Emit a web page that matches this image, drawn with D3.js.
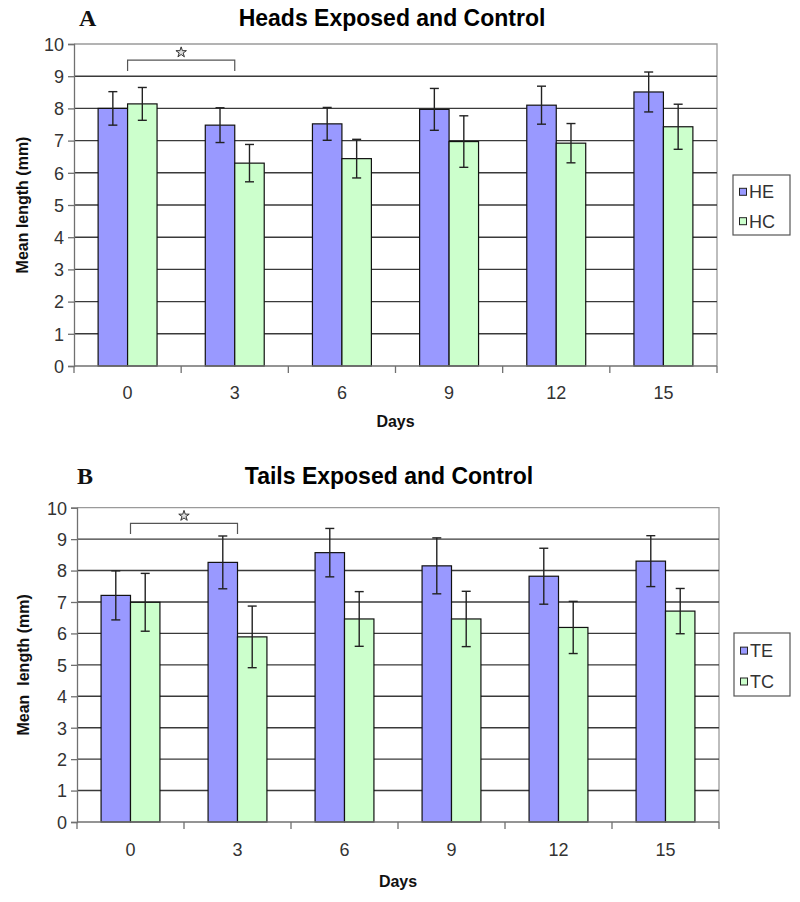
<!DOCTYPE html>
<html>
<head>
<meta charset="utf-8">
<script src="https://cdn.jsdelivr.net/npm/d3@7"></script>
<style>
  html, body { margin: 0; padding: 0; background: #fff; }
  svg { display: block; }
</style>
</head>
<body>
<svg id="chart" width="800" height="902"></svg>
<script>
// ---------- data ----------
const days = ["0", "3", "6", "9", "12", "15"];
const yTicks = [0, 1, 2, 3, 4, 5, 6, 7, 8, 9, 10];

// Panel A: Heads
const headsSeries = ["HE", "HC"];
const heValues = [8.00, 7.48, 7.52, 7.97, 8.10, 8.51];
const heErrors = [0.52, 0.54, 0.51, 0.65, 0.59, 0.62];
const hcValues = [8.14, 6.30, 6.44, 6.97, 6.92, 7.43];
const hcErrors = [0.51, 0.58, 0.60, 0.80, 0.61, 0.70];

// Panel B: Tails
const tailsSeries = ["TE", "TC"];
const teValues = [7.21, 8.26, 8.57, 8.15, 7.82, 8.30];
const teErrors = [0.78, 0.84, 0.77, 0.89, 0.89, 0.81];
const tcValues = [6.99, 5.89, 6.46, 6.46, 6.19, 6.71];
const tcErrors = [0.92, 0.98, 0.87, 0.88, 0.83, 0.72];

// significance bracket (between day 0 and day 3)
const bracketDays = ["0", "3"];
const bracketTop = 9.5;
const bracketBottom = 9.16;
const starLevel = 9.74;

const colors = ["#9999FF", "#CCFFCC"];

const SANS = "Arial, 'Liberation Sans', sans-serif";
const SERIF = "'Times New Roman', 'Liberation Serif', serif";

const panels = [
  { letter: "A", title: "Heads Exposed and Control", yTitle: "Mean length (mm)",
    series: headsSeries, values: [heValues, hcValues], errors: [heErrors, hcErrors],
    left: 74, right: 717, top: 44, bottom: 366, titleY: 26, letterX: 79, titleX: 392,
    legend: { x: 733, y: 175, w: 57, h: 60 }, xLabelY: 399, daysY: 427, yTitleX: 28 },
  { letter: "B", title: "Tails Exposed and Control", yTitle: "Mean  length (mm)",
    series: tailsSeries, values: [teValues, tcValues], errors: [teErrors, tcErrors],
    left: 77, right: 719, top: 507.7, bottom: 822, titleY: 483.5, letterX: 77, titleX: 389,
    legend: { x: 734, y: 633, w: 56, h: 63 }, xLabelY: 856, daysY: 887, yTitleX: 29 }
];

const svg = d3.select("#chart");

panels.forEach(p => {
  const g = svg.append("g").style("font-family", SANS);
  const x = d3.scaleBand().domain(days).range([p.left, p.right]).paddingInner(0.45).paddingOuter(0.225);
  const xs = d3.scaleBand().domain(p.series).range([0, x.bandwidth()]).padding(0);
  const y = d3.scaleLinear().domain([0, 10]).range([p.bottom, p.top]);

  // plot frame (top & right, gray)
  g.append("path")
    .attr("d", `M${p.left},${y(10)}H${p.right}V${y(0)}`)
    .attr("fill", "none").attr("stroke", "#9a9a9a").attr("stroke-width", 1.3);

  // gridlines
  g.append("g").selectAll("line").data(yTicks.filter(t => t > 0 && t < 10)).join("line")
    .attr("x1", p.left).attr("x2", p.right)
    .attr("y1", d => y(d)).attr("y2", d => y(d))
    .attr("stroke", "#3a3a3a").attr("stroke-width", 1.4);

  // bars
  const groups = g.append("g").selectAll("g").data(days).join("g")
    .attr("transform", d => `translate(${x(d)},0)`);
  p.series.forEach((s, si) => {
    groups.append("rect")
      .attr("x", xs(s))
      .attr("y", (d, i) => y(p.values[si][i]))
      .attr("width", xs.bandwidth())
      .attr("height", (d, i) => y(0) - y(p.values[si][i]))
      .attr("fill", colors[si])
      .attr("stroke", "#111").attr("stroke-width", 1.2);
  });

  // error bars
  p.series.forEach((s, si) => {
    const cx = xs(s) + xs.bandwidth() / 2;
    const eg = groups.append("g").attr("stroke", "#222").attr("stroke-width", 1.4);
    eg.append("line").attr("x1", cx).attr("x2", cx)
      .attr("y1", (d, i) => y(p.values[si][i] + p.errors[si][i]))
      .attr("y2", (d, i) => y(p.values[si][i] - p.errors[si][i]));
    eg.append("line").attr("x1", cx - 4.5).attr("x2", cx + 4.5)
      .attr("y1", (d, i) => y(p.values[si][i] + p.errors[si][i]))
      .attr("y2", (d, i) => y(p.values[si][i] + p.errors[si][i]));
    eg.append("line").attr("x1", cx - 4.5).attr("x2", cx + 4.5)
      .attr("y1", (d, i) => y(p.values[si][i] - p.errors[si][i]))
      .attr("y2", (d, i) => y(p.values[si][i] - p.errors[si][i]));
  });

  // y axis
  const yAxis = g.append("g").attr("transform", `translate(${p.left},0)`)
    .call(d3.axisLeft(y).tickValues(yTicks).tickSize(6).tickPadding(4));
  yAxis.attr("font-family", null).attr("font-size", null);
  yAxis.select(".domain").attr("stroke", "#707070").attr("stroke-width", 1.3);
  yAxis.selectAll(".tick line").attr("stroke", "#707070").attr("stroke-width", 1.3);
  yAxis.selectAll(".tick text").style("font-size", "18px").attr("fill", "#333")
    .attr("dy", "0.35em");

  // x axis with ticks at category boundaries
  const boundaries = days.map(d => x(d) - x.step() * x.paddingInner() / 2).concat([p.right]);
  const xAxisG = g.append("g");
  xAxisG.append("line").attr("x1", p.left).attr("x2", p.right)
    .attr("y1", y(0)).attr("y2", y(0)).attr("stroke", "#707070").attr("stroke-width", 1.3);
  xAxisG.selectAll("line.tk").data(boundaries).join("line").attr("class", "tk")
    .attr("x1", d => d).attr("x2", d => d)
    .attr("y1", y(0)).attr("y2", y(0) + 7)
    .attr("stroke", "#707070").attr("stroke-width", 1.3);
  xAxisG.selectAll("text").data(days).join("text")
    .attr("x", d => x(d) + x.bandwidth() / 2).attr("y", p.xLabelY)
    .attr("text-anchor", "middle").style("font-size", "18px").attr("fill", "#333")
    .text(d => d);

  // axis titles
  g.append("text").attr("x", (p.left + p.right) / 2).attr("y", p.daysY)
    .attr("text-anchor", "middle").style("font-size", "16px").attr("font-weight", "bold")
    .attr("fill", "#111").text("Days");
  g.append("text")
    .attr("transform", `translate(${p.yTitleX},${(p.top + p.bottom) / 2}) rotate(-90)`)
    .attr("text-anchor", "middle").style("font-size", "16px").attr("font-weight", "bold")
    .attr("fill", "#111").style("white-space", "pre")
    .text(p.yTitle);

  // title & panel letter
  g.append("text").attr("x", p.titleX).attr("y", p.titleY)
    .attr("text-anchor", "middle").style("font-size", "23px").attr("font-weight", "bold")
    .attr("fill", "#000").text(p.title);
  g.append("text").attr("x", p.letterX).attr("y", p.titleY)
    .style("font-family", SERIF)
    .style("font-size", "24px").attr("font-weight", "bold").attr("fill", "#111").text(p.letter);

  // significance bracket
  const bx1 = x(bracketDays[0]) + x.bandwidth() / 2;
  const bx2 = x(bracketDays[1]) + x.bandwidth() / 2;
  g.append("path")
    .attr("d", `M${bx1},${y(bracketBottom)}V${y(bracketTop)}H${bx2}V${y(bracketBottom)}`)
    .attr("fill", "none").attr("stroke", "#555").attr("stroke-width", 1.2);
  g.append("path")
    .attr("d", d3.symbol(d3.symbolStar, 34)())
    .attr("transform", `translate(${(bx1 + bx2) / 2},${y(starLevel)})`)
    .attr("fill", "#ddd").attr("stroke", "#333").attr("stroke-width", 1);

  // legend
  const L = p.legend;
  const lg = g.append("g").attr("transform", `translate(${L.x},${L.y})`);
  lg.append("rect").attr("width", L.w).attr("height", L.h)
    .attr("fill", "#fff").attr("stroke", "#555").attr("stroke-width", 1.2);
  p.series.forEach((s, si) => {
    const cy = L.h * (si === 0 ? 0.28 : 0.77);
    lg.append("rect").attr("x", 6.5).attr("y", cy - 3.5).attr("width", 7).attr("height", 7)
      .attr("fill", colors[si]).attr("stroke", "#222").attr("stroke-width", 1);
    lg.append("text").attr("x", 16).attr("y", cy + 6.5).style("font-size", "18px")
      .attr("fill", "#333").text(s);
  });
});
</script>
</body>
</html>
